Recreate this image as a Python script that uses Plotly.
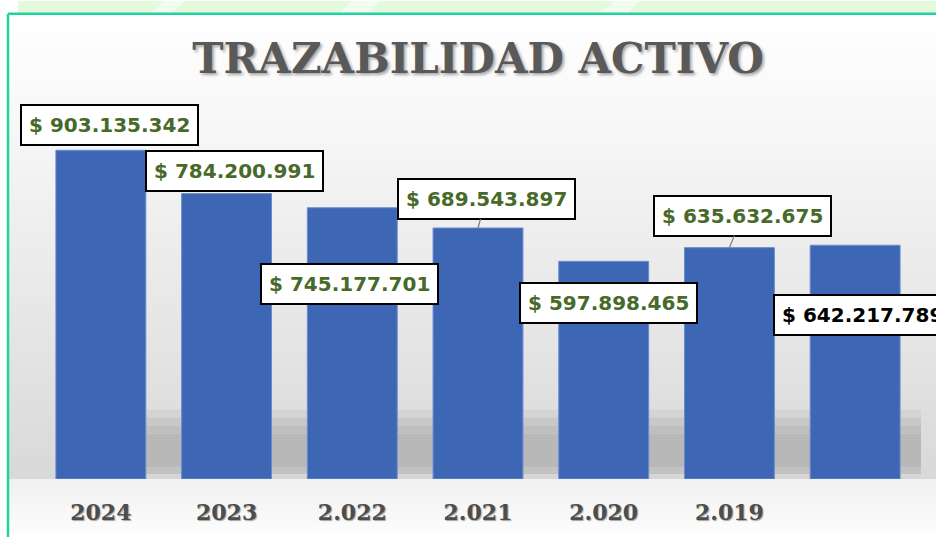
import plotly.graph_objects as go

# ---- data ----
categories = ["2024", "2023", "2.022", "2.021", "2.020", "2.019", ""]
values = [903135342, 784200991, 745177701, 689543897, 597898465, 635632675, 642217789]
label_texts = ["$ " + f"{v:,}".replace(",", ".") for v in values]

# label placement (pixel offsets from bar top) and styling
label_dx = [9, 8, -3, 8, 5, 13, 7]
label_dy = [-25, -23, 76, -29, 42, -32, 70]
label_leader = [False, False, False, True, False, True, False]
label_colors = ["#476a2a"] * 6 + ["#000000"]

W, H = 936, 537
ML, MR, MT, MB = 38, 18, 115, 55
PW, PH = W - ML - MR, H - MT - MB


def px(xp):
    return (xp - ML) / PW


def py(yp):
    return (H - MB - yp) / PH


def lerp(c1, c2, t):
    return "rgb(%d,%d,%d)" % tuple(round(a + (b - a) * t) for a, b in zip(c1, c2))


shapes = []
# background vertical gradient (chart wall)
top, bot = 14, 482
n = 40
for k in range(n):
    y0 = top + (bot - top) * k / n
    y1 = top + (bot - top) * (k + 1) / n + 0.5
    t = (k + 0.5) / n
    col = lerp((255, 255, 255), (216, 216, 216), t ** 1.1)
    shapes.append(dict(type="rect", xref="paper", yref="paper", layer="below",
                       x0=px(9), x1=px(W), y0=py(y1), y1=py(y0),
                       fillcolor=col, line=dict(width=0)))
# floor gradient
for k in range(12):
    y0 = 482 + 55 * k / 12
    y1 = 482 + 55 * (k + 1) / 12 + 0.5
    t = (k + 0.5) / 12
    col = lerp((240, 240, 240), (253, 253, 253), t)
    shapes.append(dict(type="rect", xref="paper", yref="paper", layer="below",
                       x0=px(9), x1=px(W), y0=py(y1), y1=py(y0),
                       fillcolor=col, line=dict(width=0)))
# shadow band behind bars
shadow_steps = [(412, 420, "#d4d4d4"), (420, 428, "#c8c8c8"), (428, 436, "#bfbfbf"),
                (436, 470, "#b8b8b8"), (470, 477, "#c2c2c2"), (477, 482, "#d6d6d6")]
for y0, y1, c in shadow_steps:
    shapes.append(dict(type="rect", xref="paper", yref="paper", layer="below",
                       x0=px(70), x1=px(921), y0=py(y1), y1=py(y0),
                       fillcolor=c, line=dict(width=0)))
# top green strip
shapes.append(dict(type="rect", xref="paper", yref="paper", layer="below",
                   x0=px(18), x1=px(W), y0=py(12), y1=py(0),
                   fillcolor="#e4fadc", line=dict(width=0)))
for a, b, c, d in [(150, 165, 185, 172), (340, 352, 380, 368), (600, 615, 640, 628)]:
    shapes.append(dict(type="path", xref="paper", yref="paper", layer="below",
                       path="M %f %f L %f %f L %f %f L %f %f Z" % (
                           px(a), py(12), px(b), py(0), px(c), py(0), px(d), py(12)),
                       fillcolor="rgba(255,255,255,0.55)", line=dict(width=0)))
# green frame lines
shapes.append(dict(type="line", xref="paper", yref="paper", layer="above",
                   x0=px(8), x1=px(W + 5), y0=py(13), y1=py(13),
                   line=dict(color="#1fd49d", width=2.5)))
shapes.append(dict(type="line", xref="paper", yref="paper", layer="above",
                   x0=px(8), x1=px(8), y0=py(13), y1=py(H + 5),
                   line=dict(color="#1fd49d", width=2.5)))

x_idx = list(range(len(categories)))

fig = go.Figure(go.Bar(
    x=x_idx, y=values,
    marker=dict(color="#3d66b5", line=dict(color="#6a8ccf", width=1)),
    width=0.715,
    hoverinfo="skip",
))

annotations = []
for i, v in enumerate(values):
    annotations.append(dict(
        x=i, y=v, xref="x", yref="y", text=label_texts[i],
        showarrow=True, ax=label_dx[i], ay=label_dy[i],
        arrowhead=0, arrowwidth=1.3,
        arrowcolor="#808080" if label_leader[i] else "rgba(0,0,0,0)",
        bgcolor="#ffffff", bordercolor="#000000", borderwidth=2, borderpad=7,
        font=dict(family="DejaVu Sans", size=20, color=label_colors[i], weight="bold"),
    ))

fig.update_layout(
    width=W, height=H,
    margin=dict(l=ML, r=MR, t=MT, b=MB),
    paper_bgcolor="#ffffff",
    plot_bgcolor="rgba(0,0,0,0)",
    showlegend=False,
    title=dict(text="TRAZABILIDAD ACTIVO", x=478 / W, xanchor="center",
               y=1 - 58 / H, yanchor="middle", yref="container",
               font=dict(family="DejaVu Serif", size=42, color="#595959",
                         weight="bold", shadow="2px 2px 3px rgba(0,0,0,0.35)")),
    xaxis=dict(tickvals=x_idx, ticktext=categories, range=[-0.5, len(categories) - 0.5],
               showgrid=False, zeroline=False, showline=False, ticks="",
               ticklabelstandoff=18,
               tickfont=dict(family="DejaVu Serif", size=22, color="#4d4d4d",
                             weight="bold", shadow="1px 1px 1px rgba(0,0,0,0.35)")),
    yaxis=dict(range=[0, 1.0e9], visible=False, showgrid=False, zeroline=False),
    shapes=shapes,
    annotations=annotations,
    bargap=0.28,
)

fig.write_html("out.html",
               config={"displayModeBar": False},
               post_script="document.body.style.margin='0';document.body.style.overflow='hidden';")
